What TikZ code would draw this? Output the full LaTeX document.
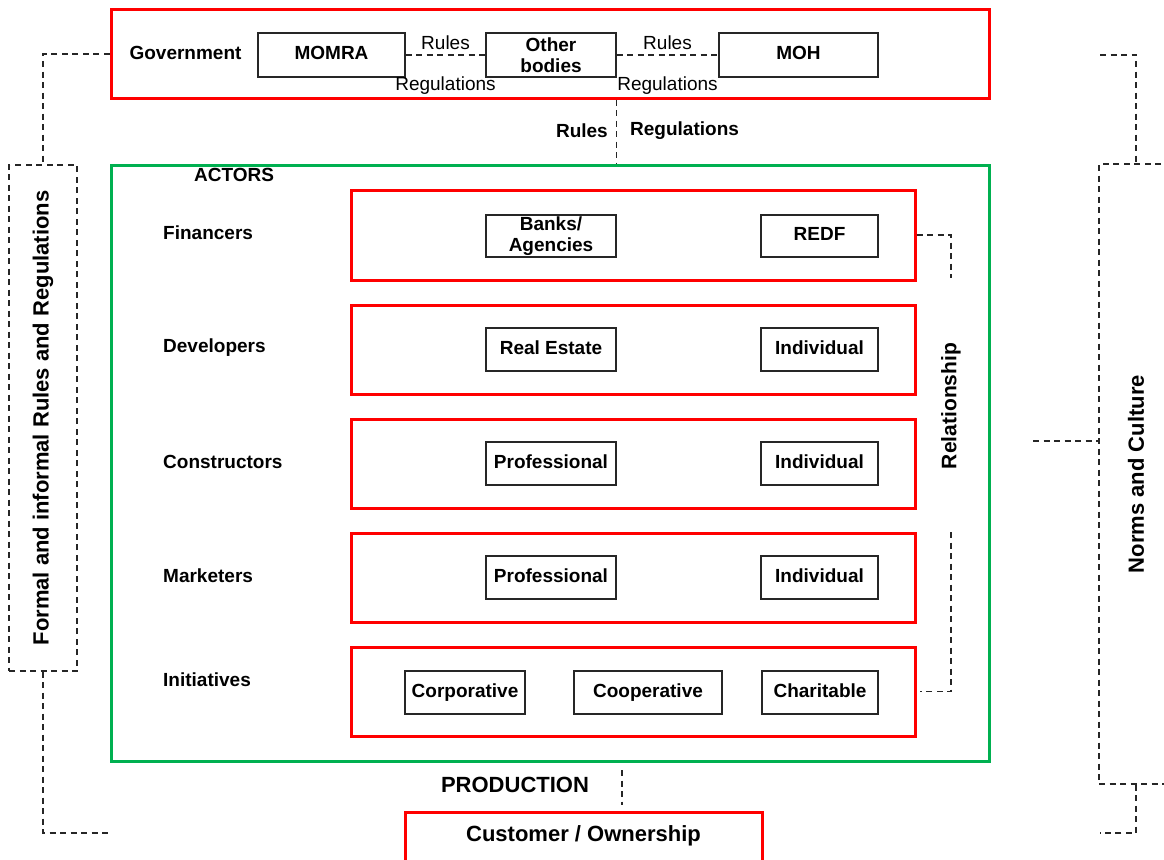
\documentclass[tikz,border=0pt]{standalone}
\usepackage{fontspec}
\setmainfont{Liberation Sans}
\definecolor{boxred}{RGB}{255,0,0}
\definecolor{boxgreen}{RGB}{0,176,80}
\tikzset{
  redbox/.style={draw=boxred, line width=3pt, inner sep=0pt},
  greenbox/.style={draw=boxgreen, line width=3pt, inner sep=0pt},
  innerbox/.style={draw=black!85, line width=1.4pt, inner sep=0pt, align=center,
     font=\fontsize{19}{20.5}\selectfont\bfseries},
  oneline/.style={text height=13.7pt, text depth=4pt},
  dashbox/.style={draw=black!85, line width=1.2pt, dash pattern=on 6pt off 4.5pt, inner sep=0pt},
  dashline/.style={draw=black!85, line width=1.2pt, dash pattern=on 6pt off 4.5pt},
  lbl/.style={inner sep=0pt, font=\fontsize{19}{22}\selectfont\bfseries},
  lblreg/.style={inner sep=0pt, font=\fontsize{19}{22}\selectfont},
  biglbl/.style={inner sep=0pt, font=\fontsize{22}{24}\selectfont\bfseries},
}
\begin{document}
\begin{tikzpicture}[x=1pt,y=-1pt]
\useasboundingbox (0,0) rectangle (1164,859);
\clip (0,0) rectangle (1164,859);

% Government
\node[redbox, minimum width=878pt, minimum height=88pt] (gov) at (550,54) {};
\node[lbl] (govtxt) at (185.5,53) {Government};
\node[innerbox, oneline, minimum width=147pt, minimum height=44pt] (momra) at (331.5,55) {MOMRA};
\node[innerbox, minimum width=130pt, minimum height=44pt] (other) at (551,55) {Other\\bodies};
\node[innerbox, oneline, minimum width=159pt, minimum height=44pt] (moh) at (798.5,55) {MOH};
\draw[dashline] (momra.east) -- (other.west)
   node[lblreg, midway, yshift=12pt] {Rules}
   node[lblreg, midway, yshift=-31pt] {Regulations};
\draw[dashline] (other.east) -- (moh.west)
   node[lblreg, midway, yshift=12pt] {Rules}
   node[lblreg, midway, yshift=-31pt] {Regulations};

% Actors
\node[greenbox, minimum width=878pt, minimum height=596pt] (actors) at (550,463) {};
\draw[dashline] (other.east |- gov.south) -- (other.east |- actors.north);
\node[lbl, anchor=east] (rulestxt) at (608,131) {Rules};
\node[lbl, anchor=west] (regtxt) at (630,131) {Regulations};
\node[lbl] (actorstxt) at (234,175) {ACTORS};

% rows
\node[redbox, minimum width=564pt, minimum height=90pt] (finrow) at (633,235) {};
\node[redbox, minimum width=564pt, minimum height=89pt] (devrow) at (633,349.5) {};
\node[redbox, minimum width=564pt, minimum height=89pt] (conrow) at (633,463.5) {};
\node[redbox, minimum width=564pt, minimum height=89pt] (markrow) at (633,577.5) {};
\node[redbox, minimum width=564pt, minimum height=89pt] (initrow) at (633,691.5) {};

\node[lbl, anchor=west] (fintxt) at (163,233) {Financers};
\node[lbl, anchor=west] (devtxt) at (163,348) {Developers};
\node[lbl, anchor=west] (contxt) at (163,462) {Constructors};
\node[lbl, anchor=west] (marktxt) at (163,576) {Marketers};
\node[lbl, anchor=west] (inittxt) at (163,680) {Initiatives};

\node[innerbox, minimum width=130pt, minimum height=42pt] (banks) at (551,236) {Banks/\\Agencies};
\node[innerbox, oneline, minimum width=117pt, minimum height=42pt] (redf) at (819.5,236) {REDF};
\node[innerbox, oneline, minimum width=130pt, minimum height=43pt] (realestate) at (551,349.5) {Real Estate};
\node[innerbox, oneline, minimum width=117pt, minimum height=43pt] (devind) at (819.5,349.5) {Individual};
\node[innerbox, oneline, minimum width=130pt, minimum height=43pt] (conprof) at (551,463.5) {Professional};
\node[innerbox, oneline, minimum width=117pt, minimum height=43pt] (conind) at (819.5,463.5) {Individual};
\node[innerbox, oneline, minimum width=130pt, minimum height=43pt] (markprof) at (551,577.5) {Professional};
\node[innerbox, oneline, minimum width=117pt, minimum height=43pt] (markind) at (819.5,577.5) {Individual};
\node[innerbox, oneline, minimum width=120pt, minimum height=43pt] (corp) at (465,692.5) {Corporative};
\node[innerbox, oneline, minimum width=148pt, minimum height=43pt] (coop) at (648,692.5) {Cooperative};
\node[innerbox, oneline, minimum width=116pt, minimum height=43pt] (charit) at (820,692.5) {Charitable};

% Relationship
\node[lbl, rotate=90, font=\fontsize{21}{23}\selectfont\bfseries] (reltxt) at (951,406) {Relationship};
\coordinate (relA) at (951,278);
\coordinate (relB) at (951,532);
\draw[dashline] (finrow.east) -| (relA);
\draw[dashline] (relB) |- ([xshift=3pt]initrow.east);

% Formal box (left)
\node[dashbox, minimum width=68pt, minimum height=506pt] (formal) at (43,418) {};
\node[biglbl, rotate=90] (formaltxt) at (formal.center) {Formal and informal Rules and Regulations};
\coordinate (lb) at (111,833);
\draw[dashline] (gov.west) -| (formal.north);
\draw[dashline] (formal.south) |- (lb);

% Norms box (right)
\node[dashbox, minimum width=141pt, minimum height=620pt] (norms) at (1169.5,474) {};
\node[biglbl, rotate=90] (normstxt) at (1136,474) {Norms and Culture};
\coordinate (rt) at (1100,55);
\coordinate (rm) at (1033,441);
\coordinate (rb) at (1100,833);
\draw[dashline] (rt) -| (normstxt |- norms.north);
\draw[dashline] (rm) -- (norms.west |- rm);
\draw[dashline] (normstxt |- norms.south) |- (rb);

% Production / Customer
\node[biglbl] (prodtxt) at (515,785) {PRODUCTION};
\coordinate (pa) at (622,770);
\coordinate (pb) at (622,805);
\draw[dashline] (pa) -- (pb);
\node[redbox, minimum width=357pt, minimum height=70pt] (customer) at (583.5,847) {};
\node[biglbl] (custtxt) at (583.5,836) {Customer / Ownership};
\end{tikzpicture}
\end{document}
